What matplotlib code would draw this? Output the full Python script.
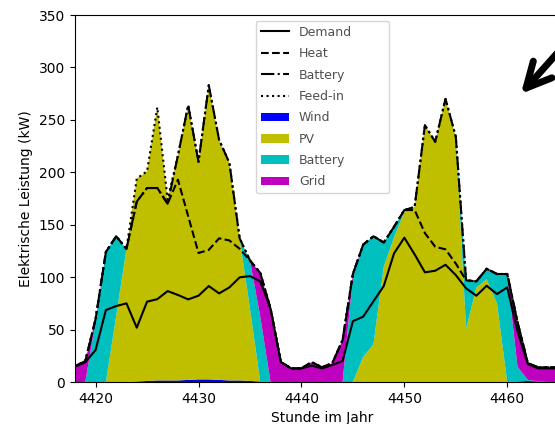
import numpy as np
import matplotlib
matplotlib.use("Agg")
import matplotlib.pyplot as plt
from matplotlib.lines import Line2D
from matplotlib.patches import Patch

# hours of the year shown
hours = np.arange(4418, 4467)

# supply (stacked areas), kW
wind = [0, 0, 0, 0, 0, 0, 0.5, 1, 1.5, 1.5, 1.5, 2, 2.5, 2.5, 2, 1.5, 1.5, 1, 0.5, 0,
        0, 0, 0, 0, 0, 0, 0, 0, 0, 0, 0, 0, 0, 0, 0, 0, 0, 0, 0, 0, 0, 0, 0, 0.5, 1, 0.5,
        0, 0, 0]
pv = [0, 0, 0, 0, 63, 127, 193.5, 200, 260.5, 172.5, 214.5, 262, 207.5, 280.5, 229, 207.5,
      135.5, 69, 0, 0, 0, 0, 0, 0, 0, 0, 0, 0, 24, 36, 110, 138, 162, 167, 245, 229, 270,
      234, 51, 90, 98, 75, 0, 0, 0, 0, 0, 0, 0]
battery_out = [0, 0, 58, 124, 76, 0, 0, 0, 0, 0, 0, 0, 0, 0, 0, 0, 0, 46, 62, 0, 0, 0, 0,
               0, 0, 0, 0, 100, 107, 103, 23, 10, 2, 0, 0, 0, 0, 0, 46, 6, 10, 28, 101, 14,
               1, 0, 0, 0, 0]
grid = [15, 20, 2, 0, 0, 0, 0, 0, 0, 0, 0, 0, 0, 0, 0, 0, 0, 0, 41.5, 70, 19, 13, 13, 19,
        14, 18, 40, 3, 0, 0, 0, 0, 0, 0, 0, 0, 0, 0, 0, 0, 0, 0, 2, 42.5, 16, 13.5, 14, 14,
        14]

# consumption (lines), kW
demand = [14.6, 18.8, 30.5, 68.6, 72.4, 75, 51.8, 76.6, 79, 86.7, 83, 78.8, 82.3, 91.5,
          84.5, 90.2, 99.8, 101, 96, 70, 19, 13, 13, 15.6, 13, 16.2, 20, 58, 62.3, 77,
          91.5, 122.7, 137.6, 121.7, 104.6, 106.1, 111.8, 102, 89.3, 82.3, 91.8, 83.9,
          90.2, 48, 17, 13, 13, 13, 13]
heat = [0.4, 1.2, 29.5, 55.4, 66.6, 52, 120.2, 108.4, 106, 83.3, 110, 79.2, 40.7, 34.5,
        52.5, 44.8, 27.2, 15, 8, 0, 0, 0, 0, 3.4, 1, 1.8, 20, 45, 68.7, 62, 41.5, 25.3,
        26.4, 42.3, 37.4, 22.9, 14.7, 11, 7.7, 13.7, 16.2, 19.1, 12.8, 9, 1, 1, 1, 1, 1]
battery_in = [0, 0, 0, 0, 0, 0, 0, 0, 0, 0, 23, 106, 87, 157, 94, 74, 10, 0, 0, 0, 0, 0, 0,
              0, 0, 0, 0, 0, 0, 0, 0, 0, 0, 3, 103, 100, 143.5, 121, 0, 0, 0, 0, 0, 0, 0,
              0, 0, 0, 0]
feed_in = [0, 0, 0, 0, 0, 0, 22, 16, 77, 4, 0, 0, 0, 0, 0, 0, 0, 0, 0, 0, 0, 0, 0, 0, 0,
           0, 0, 0, 0, 0, 0, 0, 0, 0, 0, 0, 0, 0, 0, 0, 0, 0, 0, 0, 0, 0, 0, 0, 0]

area_labels = ["Wind", "PV", "Battery", "Grid"]
area_colors = ["b", "y", "c", "m"]
line_labels = ["Demand", "Heat", "Battery", "Feed-in"]
line_styles = ["-", "--", "-.", ":"]

fig = plt.figure(figsize=(5.55, 4.24), dpi=100)
ax = fig.add_axes([75 / 555, 42 / 424, 494 / 555, 367 / 424])

ax.stackplot(hours, wind, pv, battery_out, grid, colors=area_colors)

# cumulative consumption lines
levels = np.cumsum([demand, heat, battery_in, feed_in], axis=0)
for lvl, ls in zip(levels, line_styles):
    ax.plot(hours, lvl, color="k", linestyle=ls, lw=1.5)

ax.set_xlim(4418, 4466)
ax.set_ylim(0, 350)
ax.set_xticks([4420, 4430, 4440, 4450, 4460])
ax.set_xlabel("Stunde im Jahr")
ax.set_ylabel("Elektrische Leistung (kW)")
ax.spines["right"].set_visible(False)

handles = [Line2D([], [], color="k", linestyle=ls, lw=1.5) for ls in line_styles]
handles += [Patch(facecolor=c) for c in area_colors]
leg = ax.legend(handles, line_labels + area_labels, loc="upper center", fontsize=9,
                labelspacing=0.67, handlelength=2.24,
                bbox_to_anchor=(0.366, 0.0, 0.270, 0.984), mode="expand", borderaxespad=0)
for t in leg.get_texts():
    t.set_color("#505050")

# arrow in the top right corner
fig.patches.append(matplotlib.patches.FancyArrowPatch(
    (585 / 555, 1 - 22 / 424), (519 / 555, 1 - 96 / 424),
    transform=fig.transFigure, arrowstyle="->", mutation_scale=45, lw=5, color="k"))

fig.savefig("out.png", dpi=100)
